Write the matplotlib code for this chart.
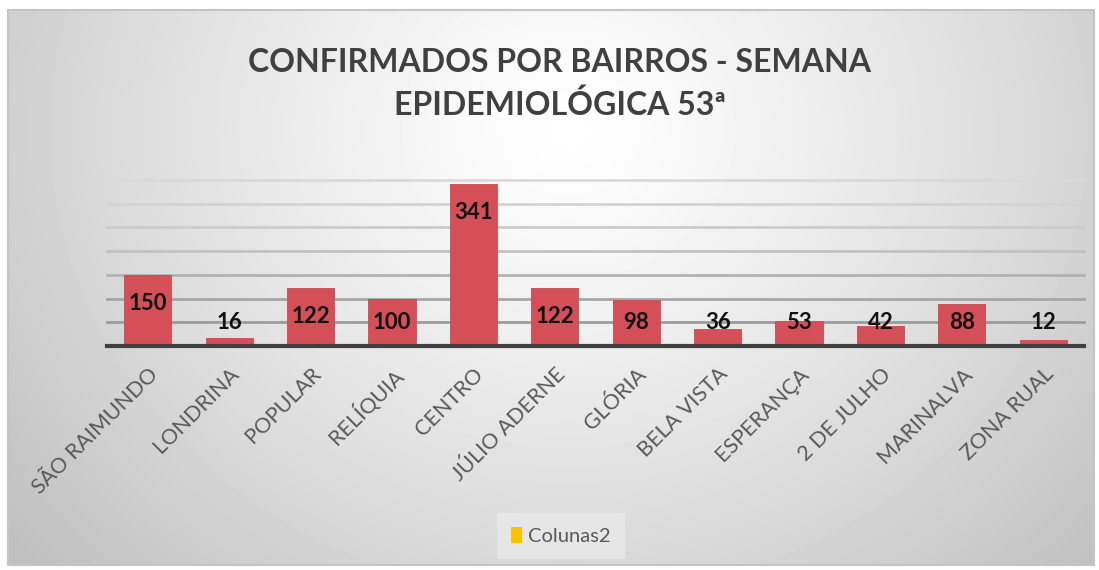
import numpy as np
import matplotlib.pyplot as plt
from matplotlib.patches import Patch

bairros = ["SÃO RAIMUNDO", "LONDRINA", "POPULAR", "RELÍQUIA", "CENTRO", "JÚLIO ADERNE",
           "GLÓRIA", "BELA VISTA", "ESPERANÇA", "2 DE JULHO", "MARINALVA", "ZONA RUAL"]
confirmados = [150, 16, 122, 100, 341, 122, 98, 36, 53, 42, 88, 12]
grid_values = [50, 100, 150, 200, 250, 300, 350]
titulo = "CONFIRMADOS POR BAIRROS - SEMANA\nEPIDEMIOLÓGICA 53ª"
legenda = "Colunas2"

plt.rcParams['font.family'] = ['Lato', 'DejaVu Sans']

W, H = 1099, 570
fig = plt.figure(figsize=(W / 100, H / 100), dpi=100)
fig.patch.set_facecolor('white')

# gradient chart area
bg = fig.add_axes([8 / W, 1 - 565 / H, (1094 - 8) / W, (565 - 10) / H])
yy, xx = np.mgrid[0:555, 0:1086]
dx = (xx - 560) / 600
dy = (yy - 120) / 540
r = np.clip(np.sqrt(dx ** 2 + dy ** 2), 0, 1.2)
shade = 1.0 - 0.2 * r ** 1.2
bg.imshow(shade, cmap='gray', vmin=0, vmax=1, aspect='auto', interpolation='bilinear')
bg.set_xticks([])
bg.set_yticks([])
for s in bg.spines.values():
    s.set_color('#c4c4c4')
    s.set_linewidth(1.5)

ax = fig.add_axes([107 / W, 1 - 346 / H, (1084 - 107) / W, (346 - 180) / H])
ax.patch.set_alpha(0)
ax.set_xlim(-0.5, len(bairros) - 0.5)
ax.set_ylim(0, 350)

grid_colors = ['#9c9c9c', '#a6a6a6', '#b2b2b2', '#c2c2c2', '#cccccc', '#d3d3d3', '#d9d9d9']
for v, c in zip(grid_values, grid_colors):
    ax.axhline(v, color=c, lw=2, zorder=1, clip_on=False)

x = np.arange(len(bairros))
ax.bar(x, confirmados, width=0.58, color='#D44F58', edgecolor='#CC4A53', lw=0.6, zorder=2)
ax.axhline(0, color='#404040', lw=3, zorder=3, clip_on=False)

for xi, v in zip(x, confirmados):
    ax.text(xi, max(v - 60, 50), str(v), ha='center', va='center',
            fontsize=16, fontweight='bold', color='#111111', zorder=4)

ax.set_xticks(x)
ax.set_xticklabels(bairros, rotation=45, ha='right', va='top', rotation_mode='anchor',
                   fontsize=15.5, color='#595959')
ax.tick_params(axis='x', length=0, pad=13)
ax.set_yticks([])
for s in ax.spines.values():
    s.set_visible(False)

fig.text(560 / W, 1 - 84 / H, titulo, ha='center', va='center', fontsize=23,
         fontweight='bold', color='#404040', linespacing=1.5)

handle = Patch(facecolor='#FFC000', edgecolor='none')
leg = fig.legend([handle], [legenda], loc='center', bbox_to_anchor=(561 / W, 1 - 536 / H),
                 frameon=True, fontsize=14.5, handlelength=0.55, handleheight=0.8,
                 handletextpad=0.3, borderpad=0.7, fancybox=False)
leg.get_frame().set_facecolor('#e9e9e9')
leg.get_frame().set_edgecolor('none')
for t in leg.get_texts():
    t.set_color('#595959')

fig.savefig('out.png', dpi=100, facecolor='white')
